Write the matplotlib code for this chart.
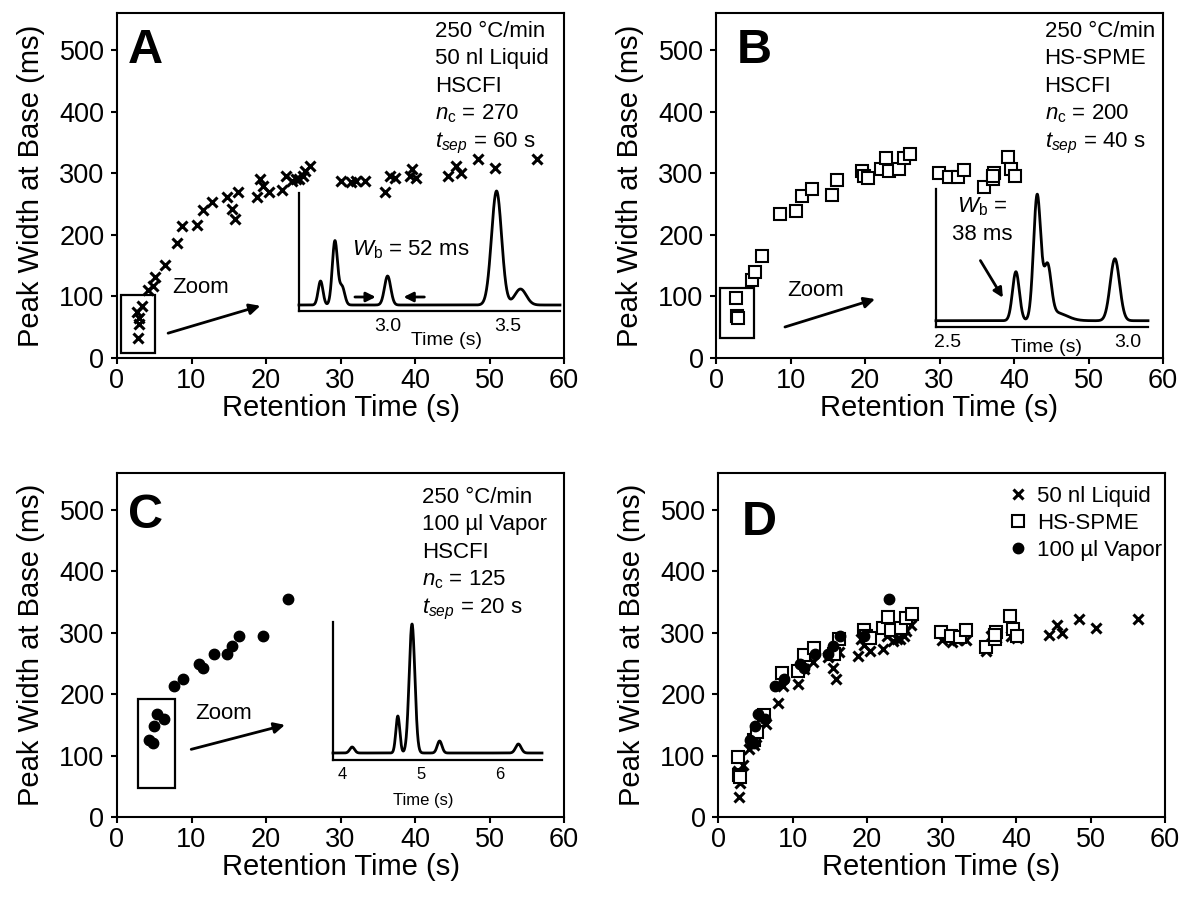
import numpy as np
import matplotlib
matplotlib.use("Agg")
import matplotlib.pyplot as plt
from matplotlib.patches import Rectangle
from matplotlib.lines import Line2D

plt.rcParams['font.family'] = ['Liberation Sans', 'DejaVu Sans']
plt.rcParams['mathtext.fontset'] = 'custom'
plt.rcParams['mathtext.rm'] = 'Liberation Sans'
plt.rcParams['mathtext.it'] = 'Liberation Sans:italic'

# ---------------- data ----------------
liquid_t = [2.8, 2.9, 3.0, 2.7, 3.3, 4.2, 4.8, 5.1, 6.4, 8.1, 8.7, 10.8, 11.6, 12.8, 14.8,
            15.5, 15.8, 16.3, 18.8, 19.2, 19.6, 20.4, 22.1, 22.7, 23.5, 24.0, 24.4, 24.9,
            25.3, 25.9, 30.1, 31.4, 32.1, 33.3, 36.0, 36.7, 37.3, 39.3, 39.6, 40.2, 44.4,
            45.5, 46.2, 48.4, 50.8, 56.4]
liquid_w = [33, 55, 65, 75, 84, 110, 117, 131, 151, 186, 214, 216, 241, 253, 261,
            242, 225, 269, 262, 290, 280, 270, 273, 295, 287, 290, 290, 295,
            303, 312, 288, 285, 288, 288, 270, 295, 292, 295, 306, 292, 296,
            312, 300, 323, 308, 323]

spme_t = [2.7, 2.8, 2.9, 4.8, 5.2, 6.2, 8.6, 10.8, 11.6, 12.9, 15.6, 16.3, 19.6, 19.9,
          20.4, 22.1, 22.8, 23.2, 24.5, 25.2, 26.0, 29.9, 31.3, 32.5, 33.3, 36.0, 37.2,
          37.3, 37.2, 39.2, 39.6, 40.2]
spme_w = [98, 68, 65, 126, 139, 166, 234, 238, 263, 275, 265, 289, 304, 295,
          292, 307, 325, 304, 307, 324, 331, 301, 294, 293, 305, 277, 290,
          301, 296, 327, 306, 295]

vapor_t = [4.3, 4.8, 5.0, 5.4, 6.3, 7.6, 8.8, 11.0, 11.6, 13.0, 14.8, 15.5, 16.4, 19.6, 23.0]
vapor_w = [126, 121, 148, 167, 159, 214, 225, 249, 243, 265, 265, 279, 295, 295, 355]

# inset chromatogram peaks (time s, height, sigma s)
peaksA_t = [2.72, 2.78, 2.81, 3.00, 3.455, 3.555]
peaksA_h = [24, 64, 18, 29, 114, 16]
peaksA_s = [0.010, 0.011, 0.011, 0.013, 0.021, 0.024]

peaksB_t = [2.689, 2.748, 2.777, 2.80, 2.964]
peaksB_h = [49, 124, 50, 8, 62]
peaksB_s = [0.0095, 0.010, 0.010, 0.030, 0.013]

peaksC_t = [4.12, 4.70, 4.88, 5.23, 6.23]
peaksC_h = [6, 37, 129, 12, 9]
peaksC_s = [0.030, 0.025, 0.036, 0.030, 0.035]

W, H = 1186, 898
fig = plt.figure(figsize=(W / 100, H / 100), dpi=100)


def fr(l, t, r, b):
    return [l / W, 1 - b / H, (r - l) / W, (b - t) / H]


def setup(ax):
    ax.set_xlim(0, 60)
    ax.set_ylim(0, 560)
    ax.set_xticks(range(0, 61, 10))
    ax.set_yticks(range(0, 501, 100))
    ax.tick_params(direction='out', length=4, width=1.5, labelsize=19.5, pad=3)
    ax.tick_params(axis='y', pad=5)
    for s in ax.spines.values():
        s.set_linewidth(1.5)
    ax.set_xlabel('Retention Time (s)', fontsize=21, labelpad=0)
    ax.set_ylabel('Peak Width at Base (ms)', fontsize=21, labelpad=10)


def info(ax, lines, x, h_px, dy=0):
    offs = [24, 51, 79, 106, 134]
    for ln, o in zip(lines, offs):
        ax.text(x, 1 - (o + dy) / h_px, ln, transform=ax.transAxes, fontsize=16,
                ha='left', va='baseline')


def chrom(t, pt, ph, ps):
    y = np.zeros_like(t)
    for c, h, s in zip(pt, ph, ps):
        y += h * np.exp(-0.5 * ((t - c) / s) ** 2)
    return y


def inset(rect, xlim, ylim, pt, ph, ps, ticks, ticklabels, fs):
    ia = fig.add_axes(rect)
    t = np.linspace(xlim[0], xlim[1], 1500)
    ia.plot(t, chrom(t, pt, ph, ps), color='black', lw=2.0, clip_on=False)
    ia.set_xlim(*xlim)
    ia.set_ylim(*ylim)
    ia.spines['top'].set_visible(False)
    ia.spines['right'].set_visible(False)
    for s in ('left', 'bottom'):
        ia.spines[s].set_linewidth(1.6)
    ia.set_yticks([])
    ia.set_xticks(ticks)
    ia.set_xticklabels(ticklabels)
    ia.tick_params(axis='x', length=0, labelsize=fs, pad=5)
    ia.patch.set_alpha(0)
    return ia


mk_x = dict(marker='x', ls='none', color='black', ms=7, mew=2.2)
mk_s = dict(marker='s', ls='none', mfc='white', mec='black', ms=8, mew=1.5)
mk_o = dict(marker='o', ls='none', color='black', ms=7.5)

# ---------------- Panel A ----------------
axA = fig.add_axes(fr(117, 13, 564, 358))
setup(axA)
axA.plot(liquid_t, liquid_w, **mk_x)
axA.text(0.025, 1 - 50 / 345, 'A', transform=axA.transAxes, fontsize=35,
         fontweight='bold', va='baseline')
info(axA, ['250 °C/min', '50 nl Liquid', 'HSCFI', r'$n_\mathrm{c}$ = 270',
           r'$t_{sep}$ = 60 s'], 0.711, 345)
axA.add_patch(Rectangle((0.6, 8), 4.5, 94, fill=False, lw=1.6, ec='black'))
axA.annotate('', xy=(19.6, 86), xytext=(6.5, 39),
             arrowprops=dict(arrowstyle='-|>', lw=2, color='black', mutation_scale=16))
axA.text(7.4, 115, 'Zoom', fontsize=16, va='center')
axA.text(31.6, 175, r'$W_\mathrm{b}$ = 52 ms', fontsize=16, va='center')

iaA = inset(fr(299, 193, 560, 311), (2.63, 3.72), (-6, 112), peaksA_t, peaksA_h, peaksA_s,
            [3.0, 3.5], ['3.0', '3.5'], 14)
iaA.text(0.567, -0.25, 'Time (s)', transform=iaA.transAxes, fontsize=14,
         ha='center', va='center')
iaA.annotate('', xy=(2.962, 8), xytext=(2.852, 8),
             arrowprops=dict(arrowstyle='-|>', lw=2, color='black', mutation_scale=14))
iaA.annotate('', xy=(3.055, 8), xytext=(3.165, 8),
             arrowprops=dict(arrowstyle='-|>', lw=2, color='black', mutation_scale=14))

# ---------------- Panel B ----------------
axB = fig.add_axes(fr(716, 13, 1163, 358))
setup(axB)
axB.plot(spme_t, spme_w, **mk_s)
axB.text(0.047, 1 - 50 / 345, 'B', transform=axB.transAxes, fontsize=35,
         fontweight='bold', va='baseline')
info(axB, ['250 °C/min', 'HS-SPME', 'HSCFI', r'$n_\mathrm{c}$ = 200',
           r'$t_{sep}$ = 40 s'], 0.735, 345)
axB.add_patch(Rectangle((0.55, 32), 4.55, 82, fill=False, lw=1.6, ec='black'))
axB.annotate('', xy=(21.7, 97), xytext=(8.9, 49),
             arrowprops=dict(arrowstyle='-|>', lw=2, color='black', mutation_scale=16))
axB.text(9.5, 110, 'Zoom', fontsize=16, va='center')
axB.text(35.7, 245, r'$W_\mathrm{b}$ =', fontsize=16, va='center', ha='center')
axB.text(35.7, 200, '38 ms', fontsize=16, va='center', ha='center')
axB.annotate('', xy=(38.7, 94), xytext=(35.3, 162),
             arrowprops=dict(arrowstyle='-|>', lw=2, color='black', mutation_scale=14))

iaB = inset(fr(936, 189, 1148, 327), (2.467, 3.056), (-6.3, 131.7), peaksB_t, peaksB_h,
            peaksB_s, [2.5, 3.0], ['2.5', '3.0'], 14)
iaB.text(0.52, -0.145, 'Time (s)', transform=iaB.transAxes, fontsize=14,
         ha='center', va='center')

# ---------------- Panel C ----------------
axC = fig.add_axes(fr(117, 473, 564, 817))
setup(axC)
axC.plot(vapor_t, vapor_w, **mk_o)
axC.text(0.025, 1 - 55 / 344, 'C', transform=axC.transAxes, fontsize=35,
         fontweight='bold', va='baseline')
info(axC, ['250 °C/min', '100 µl Vapor', 'HSCFI', r'$n_\mathrm{c}$ = 125',
           r'$t_{sep}$ = 20 s'], 0.682, 344, dy=6)
axC.add_patch(Rectangle((2.8, 47), 5.0, 145, fill=False, lw=1.6, ec='black'))
axC.annotate('', xy=(22.9, 151), xytext=(9.6, 109),
             arrowprops=dict(arrowstyle='-|>', lw=2, color='black', mutation_scale=16))
axC.text(10.5, 169, 'Zoom', fontsize=16, va='center')

iaC = inset(fr(333, 622, 542, 760), (3.877, 6.53), (-7, 131), peaksC_t, peaksC_h,
            peaksC_s, [4, 5, 6], ['4', '5', '6'], 12)
iaC.text(0.43, -0.29, 'Time (s)', transform=iaC.transAxes, fontsize=12,
         ha='center', va='center')

# ---------------- Panel D ----------------
axD = fig.add_axes(fr(718, 473, 1165, 817))
setup(axD)
axD.plot(liquid_t, liquid_w, **mk_x)
axD.plot(spme_t, spme_w, **mk_s)
axD.plot(vapor_t, vapor_w, **mk_o)
axD.text(0.053, 1 - 62 / 344, 'D', transform=axD.transAxes, fontsize=35,
         fontweight='bold', va='baseline')
handles = [Line2D([], [], **mk_x), Line2D([], [], **mk_s), Line2D([], [], **mk_o)]
axD.legend(handles, ['50 nl Liquid', 'HS-SPME', '100 µl Vapor'], loc='upper left',
           bbox_to_anchor=(0.646, 0.962), borderpad=0, borderaxespad=0, frameon=False,
           fontsize=16, handlelength=1.0, handletextpad=0.36, labelspacing=0.26)

fig.savefig('out.png', dpi=100)
